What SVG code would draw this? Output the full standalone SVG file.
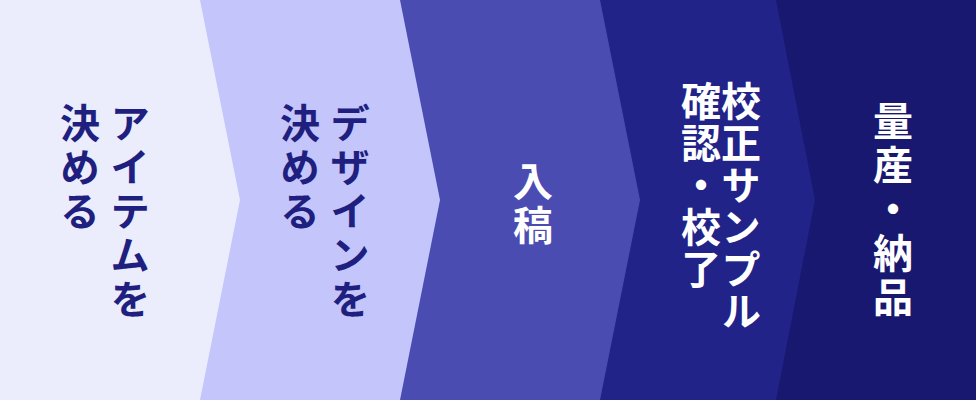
<svg xmlns="http://www.w3.org/2000/svg" width="976" height="400" viewBox="0 0 976 400">
<style>
.t{font-family:"Noto Sans CJK JP","Noto Sans CJK SC",sans-serif;font-weight:700;font-size:40px;writing-mode:vertical-rl;letter-spacing:4px}
.d{fill:#1E1F7E}
.w{fill:#FFFFFF}
</style>
<g id="step5"><rect x="0" y="0" width="976" height="400" fill="#191870"/>
<text class="t w" x="893" y="101">量産・納品</text></g>
<g id="step4"><polygon points="0,0 776,0 815,200 776,400 0,400" fill="#212389"/>
<text class="t w" x="741" y="81" style="letter-spacing:2px">校正サンプル</text>
<text class="t w" x="701" y="81" style="letter-spacing:2px">確認・校了</text></g>
<g id="step3"><polygon points="0,0 600,0 640,200 600,400 0,400" fill="#4B4CB1"/>
<text class="t w" x="533" y="161">入稿</text></g>
<g id="step2"><polygon points="0,0 400,0 440,200 400,400 0,400" fill="#C4C5FA"/>
<text class="t d" x="350" y="103">デザインを</text>
<text class="t d" x="300" y="103">決める</text></g>
<g id="step1"><polygon points="0,0 200,0 240,200 200,400 0,400" fill="#EBECFC"/>
<text class="t d" x="130" y="103">アイテムを</text>
<text class="t d" x="80" y="103">決める</text></g>
<g id="connectors"></g>
</svg>
